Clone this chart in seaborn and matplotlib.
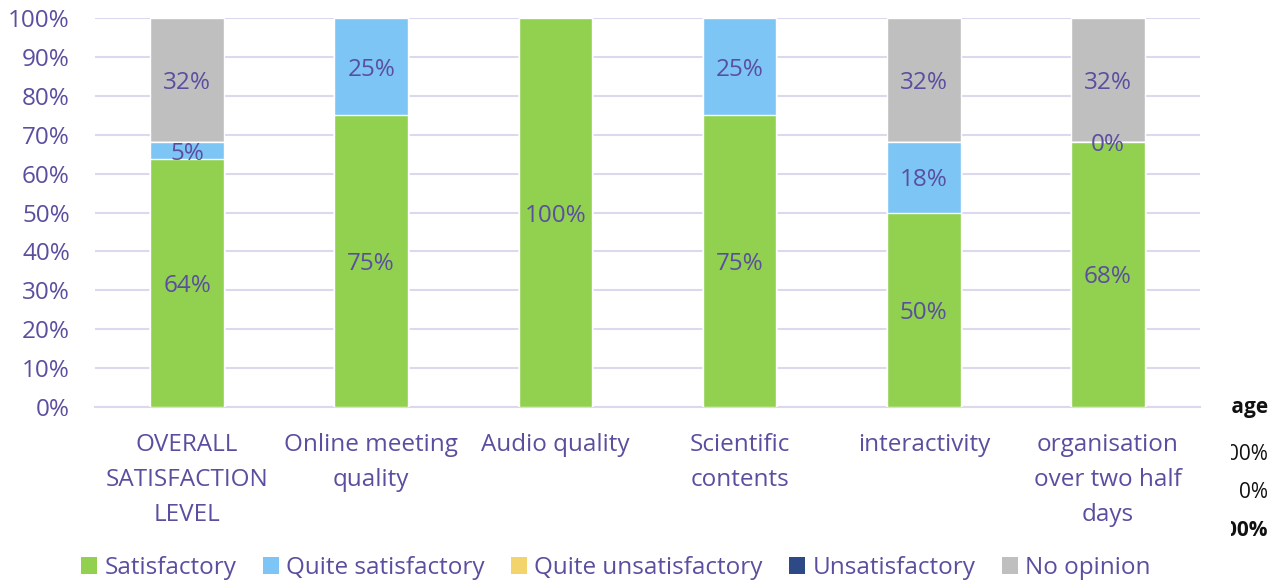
import numpy as np
import pandas as pd
import seaborn as sns
import matplotlib.pyplot as plt
from matplotlib.patches import Patch, Rectangle

categories = ["OVERALL\nSATISFACTION\nLEVEL", "Online meeting\nquality", "Audio quality",
              "Scientific\ncontents", "interactivity", "organisation\nover two half\ndays"]
series = ["Satisfactory", "Quite satisfactory", "Quite unsatisfactory", "Unsatisfactory", "No opinion"]
satisfactory = [63.64, 75.0, 100.0, 75.0, 50.0, 68.18]
quite_satisfactory = [4.55, 25.0, np.nan, 25.0, 18.18, 0.0]
quite_unsatisfactory = [np.nan] * 6
unsatisfactory = [np.nan] * 6
no_opinion = [31.82, np.nan, np.nan, np.nan, 31.82, 31.82]
colors = ["#92D050", "#7DC5F5", "#F3D46C", "#2E4A86", "#BFBFBF"]

txt = "#5A4F9F"
grid = "#DCD8EE"

sns.set_theme(style="white")
plt.rcParams['font.family'] = ['Open Sans', 'DejaVu Sans']

df = pd.DataFrame({"cat": categories, series[0]: satisfactory, series[1]: quite_satisfactory,
                   series[2]: quite_unsatisfactory, series[3]: unsatisfactory, series[4]: no_opinion})
vals = df[series].fillna(0)
cum = vals.cumsum(axis=1)

fig = plt.figure(figsize=(12.84, 5.85), dpi=100)
ax = fig.add_axes([95 / 1284, 1 - 407 / 585, 1105 / 1284, 389 / 585])

# draw cumulative totals from the top layer down so each segment shows
for i in range(len(series) - 1, -1, -1):
    sns.barplot(x=df["cat"], y=cum[series[i]], color=colors[i], width=0.4,
                saturation=1, ax=ax, zorder=3)

# segment labels
for i, s in enumerate(series):
    raw = df[s]
    for j in range(len(categories)):
        v = raw.iloc[j]
        if pd.isna(v):
            continue
        y = cum[s].iloc[j] - vals[s].iloc[j] / 2
        ax.text(j, y, f"{round(v + 1e-9):.0f}%", ha="center", va="center_baseline", color=txt,
                fontsize=17.5, zorder=5)

ax.set_ylim(0, 100)
ax.set_xlim(-0.5, len(categories) - 0.5)
ax.set_yticks(np.arange(0, 101, 10))
ax.set_yticklabels([f"{t}%" for t in range(0, 101, 10)])
ax.yaxis.grid(True, color=grid, linewidth=1.5, zorder=0)
ax.set_axisbelow(True)
ax.set_xlabel("")
ax.set_ylabel("")
for sp in ["top", "right", "left"]:
    ax.spines[sp].set_visible(False)
ax.spines["bottom"].set_color(grid)
ax.spines["bottom"].set_linewidth(1.5)
ax.tick_params(axis="both", length=0, colors=txt, labelsize=17.5)
ax.tick_params(axis="x", pad=19)
ax.tick_params(axis="y", pad=18)
for lab in ax.get_xticklabels():
    lab.set_linespacing(1.6)
    lab.set_va("top")

handles = [Patch(facecolor=c, edgecolor="none") for c in colors]
leg = fig.legend(handles, series, loc="center", bbox_to_anchor=(616 / 1284, 1 - 568 / 585),
                 ncol=5, frameon=False, fontsize=17.5, handlelength=0.65, handleheight=0.65,
                 handletextpad=0.3, columnspacing=1.1, labelcolor=txt)

# cropped table remnants at the right edge
clip = Rectangle((1231 / 1284, 0), 1, 1, transform=fig.transFigure)
for text, yy, bold in [("Percentage", 408, True), ("100%", 455, False),
                       ("0%", 492, False), ("100%", 530, True)]:
    t = fig.text(1268 / 1284, 1 - yy / 585, text, ha="right", va="center", fontsize=15,
                 color="#111111", fontweight="bold" if bold else "normal",
                 family=["Open Sans", "DejaVu Sans"])
    t.set_clip_path(clip)

fig.savefig("out.png", dpi=100)
